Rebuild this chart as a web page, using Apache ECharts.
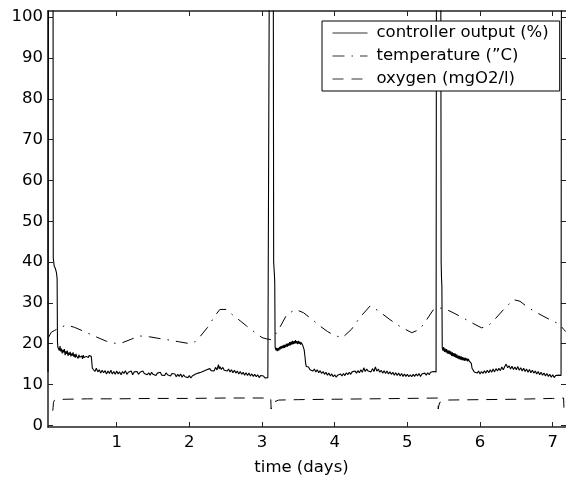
<!DOCTYPE html>
<html>
<head>
<meta charset="utf-8">
<script src="https://cdn.jsdelivr.net/npm/echarts@6/dist/echarts.min.js"></script>
<style>html,body{margin:0;padding:0;background:#fff;}#c{width:566px;height:481px;}</style>
</head>
<body>
<div id="c"></div>
<script>
var seriesNames = ['controller output (%)', 'temperature (\u201dC)', 'oxygen (mgO2/l)'];
var xTicks = [1, 2, 3, 4, 5, 6, 7];
var yTicks = [0, 10, 20, 30, 40, 50, 60, 70, 80, 90, 100];

var controller = [
[0.055,13.0],[0.058,12.6],[0.06,110],[0.124,110],[0.127,41],[0.14,39],[0.155,38.5],[0.17,37.5],[0.18,36],[0.185,20.5],[0.19,19.2],
[0.20,19.0],[0.21,18.3],[0.22,19.4],[0.23,18.1],[0.24,18.8],[0.25,17.6],[0.26,18.5],[0.27,17.9],[0.28,18.7],[0.29,17.2],[0.30,18.1],[0.31,17.5],[0.32,18.3],[0.33,17.0],[0.34,17.8],[0.35,17.3],[0.36,18.0],[0.37,16.9],[0.38,17.6],[0.39,17.1],[0.40,17.9],[0.41,16.8],[0.42,17.4],[0.43,16.6],[0.44,17.5],[0.45,16.9],[0.46,17.2],[0.47,16.4],[0.48,17.3],[0.49,16.7],[0.50,17.1],[0.51,16.5],[0.52,17.0],[0.53,16.3],[0.54,17.2],[0.55,16.6],[0.56,17.0],[0.57,16.4],[0.58,16.9],[0.59,16.5],[0.60,17.3],[0.61,16.6],[0.62,17.1],[0.63,16.8],[0.64,17.4],[0.65,16.9],[0.655,17.2],
[0.66,15.0],[0.665,14.0],[0.67,13.6],
[0.68,13.9],[0.70,13.2],[0.72,14.0],[0.74,13.1],[0.76,13.6],[0.78,12.8],[0.80,13.5],[0.82,12.9],[0.84,13.4],[0.86,12.6],[0.88,13.3],[0.90,12.7],[0.92,13.5],[0.94,12.6],[0.96,13.2],[0.98,12.5],[1.00,13.3],[1.02,12.6],[1.04,13.1],[1.06,12.4],[1.08,13.2],[1.10,12.7],[1.12,13.4],[1.14,12.5],[1.16,13.0],[1.18,12.6],[1.20,13.3],[1.22,12.4],[1.24,13.1],[1.26,12.8],[1.28,13.2],[1.30,12.5],[1.32,13.0],[1.34,12.6],[1.36,13.3],[1.38,12.7],[1.40,13.1],[1.42,12.4],[1.44,12.9],[1.46,12.3],[1.48,13.0],[1.50,12.5],[1.52,12.9],[1.54,12.2],[1.56,12.8],[1.58,12.4],[1.60,13.0],[1.62,12.3],[1.64,12.7],[1.66,12.2],[1.68,12.9],[1.70,12.4],[1.72,12.8],[1.74,12.1],[1.76,12.7],[1.78,12.3],[1.80,12.6],[1.82,11.9],[1.84,12.5],[1.86,12.0],[1.88,12.6],[1.90,11.8],[1.92,12.4],[1.94,11.9],[1.96,12.3],[1.98,11.7],[2.00,12.2],[2.02,11.6],[2.04,12.1],[2.06,11.8],[2.08,12.5],[2.10,12.1],[2.12,12.8],[2.14,12.4],[2.16,13.0],[2.18,12.6],[2.20,13.3],[2.22,12.9],[2.24,13.6],[2.26,13.2],[2.28,13.9],[2.30,13.4],[2.32,13.8],[2.34,13.3],[2.36,14.2],[2.38,13.6],[2.40,14.9],[2.41,13.8],[2.42,14.4],[2.44,13.7],[2.46,14.2],[2.48,13.5],[2.50,13.9],[2.52,13.3],[2.54,13.8],[2.56,13.1],[2.58,13.6],[2.60,12.9],[2.62,13.5],[2.64,12.8],[2.66,13.3],[2.68,12.6],[2.70,13.2],[2.72,12.5],[2.74,13.0],[2.76,12.3],[2.78,12.9],[2.80,12.2],[2.82,12.8],[2.84,12.1],[2.86,12.6],[2.88,12.0],[2.90,12.5],[2.92,11.9],[2.94,12.4],[2.96,11.7],[2.98,12.2],[3.00,11.8],[3.02,12.1],[3.04,11.6],[3.06,12.0],[3.08,11.7],[3.095,11.9],
[3.10,110],[3.155,110],[3.16,40],[3.17,37],[3.175,35],[3.18,19.2],
[3.19,18.4],[3.20,19.0],[3.21,18.2],[3.22,18.9],[3.23,18.3],[3.24,19.2],[3.25,18.6],[3.26,19.4],[3.27,18.8],[3.28,19.5],[3.29,18.9],[3.30,19.7],[3.31,19.0],[3.32,19.8],[3.33,19.2],[3.34,20.0],[3.35,19.3],[3.36,20.1],[3.37,19.5],[3.38,20.4],[3.39,19.6],[3.40,20.5],[3.41,19.8],[3.42,20.7],[3.43,19.9],[3.44,20.6],[3.45,20.0],[3.46,20.9],[3.47,20.1],[3.48,20.6],[3.49,19.9],[3.50,20.7],[3.51,20.0],[3.52,20.5],[3.53,19.8],[3.54,20.3],[3.55,19.9],[3.56,19.6],[3.57,19.2],[3.58,18.5],[3.59,17.0],[3.60,15.2],[3.61,14.4],
[3.62,14.1],[3.64,14.3],[3.66,13.6],[3.68,14.0],[3.70,13.3],[3.72,13.8],[3.74,13.1],[3.76,13.6],[3.78,12.9],[3.80,13.4],[3.82,12.7],[3.84,13.2],[3.86,12.5],[3.88,13.0],[3.90,12.3],[3.92,12.8],[3.94,12.1],[3.96,12.6],[3.98,11.9],[4.00,12.4],[4.02,11.8],[4.04,12.3],[4.06,12.0],[4.08,12.6],[4.10,12.1],[4.12,12.7],[4.14,12.2],[4.16,12.9],[4.18,12.4],[4.20,13.0],[4.22,12.5],[4.24,13.1],[4.26,12.7],[4.28,13.3],[4.30,12.8],[4.32,13.4],[4.34,12.9],[4.36,13.6],[4.38,13.0],[4.40,14.1],[4.42,13.2],[4.44,13.8],[4.46,13.3],[4.48,13.7],[4.50,13.1],[4.52,13.9],[4.54,13.2],[4.56,14.3],[4.58,13.3],[4.60,13.8],[4.62,13.0],[4.64,13.5],[4.66,12.8],[4.68,13.4],[4.70,12.7],[4.72,13.3],[4.74,12.6],[4.76,13.1],[4.78,12.5],[4.80,13.0],[4.82,12.3],[4.84,12.9],[4.86,12.2],[4.88,12.8],[4.90,12.1],[4.92,12.7],[4.94,12.0],[4.96,12.6],[4.98,12.0],[5.00,12.5],[5.02,11.9],[5.04,12.4],[5.06,11.9],[5.08,12.5],[5.10,12.0],[5.12,12.6],[5.14,12.1],[5.16,12.7],[5.18,12.0],[5.20,12.6],[5.22,12.2],[5.24,12.8],[5.26,12.3],[5.28,12.9],[5.30,12.4],[5.32,13.0],[5.34,12.6],[5.36,13.2],[5.38,12.8],[5.395,13.1],
[5.40,110],[5.46,110],[5.465,40],[5.47,36],[5.475,34],[5.48,19.0],
[5.49,18.3],[5.50,19.2],[5.51,18.0],[5.52,18.8],[5.53,17.9],[5.54,18.7],[5.55,17.6],[5.56,18.4],[5.57,17.5],[5.58,18.3],[5.59,17.3],[5.60,18.1],[5.61,17.0],[5.62,17.9],[5.63,16.9],[5.64,17.7],[5.65,16.8],[5.66,17.6],[5.67,16.5],[5.68,17.4],[5.69,16.4],[5.70,17.1],[5.71,16.2],[5.72,17.0],[5.73,16.1],[5.74,16.9],[5.75,16.0],[5.76,16.7],[5.77,15.9],[5.78,16.6],[5.79,15.8],[5.80,16.5],[5.81,15.9],[5.82,16.4],[5.83,15.7],[5.84,16.3],[5.85,15.8],[5.86,16.2],[5.87,15.9],[5.88,15.2],[5.89,14.0],[5.90,13.6],
[5.92,13.1],[5.94,13.5],[5.96,12.8],[5.98,13.3],[6.00,12.6],[6.02,13.2],[6.04,12.7],[6.06,13.4],[6.08,12.8],[6.10,13.5],[6.12,12.9],[6.14,13.6],[6.16,13.0],[6.18,13.8],[6.20,13.1],[6.22,13.9],[6.24,13.3],[6.26,14.0],[6.28,13.4],[6.30,14.3],[6.32,13.6],[6.34,14.4],[6.36,15.0],[6.38,14.1],[6.40,14.6],[6.42,13.8],[6.44,14.5],[6.46,13.7],[6.48,14.3],[6.50,13.6],[6.52,14.4],[6.54,13.5],[6.56,14.1],[6.58,13.3],[6.60,14.0],[6.62,13.2],[6.64,13.8],[6.66,13.0],[6.68,13.7],[6.70,12.9],[6.72,13.5],[6.74,12.8],[6.76,13.3],[6.78,12.6],[6.80,13.2],[6.82,12.4],[6.84,13.0],[6.86,12.3],[6.88,12.8],[6.90,12.1],[6.92,12.7],[6.94,12.0],[6.96,12.5],[6.98,11.8],[7.00,12.4],[7.02,11.7],[7.04,12.2],[7.06,11.8],[7.08,12.3],[7.10,12.0],[7.115,12.2],
[7.12,110],[7.2,110]
];

var temperature = [
[0.06,21.5],[0.10,22.8],[0.14,23.2],[0.20,23.8],[0.31,24.6],[0.42,24.0],[0.54,23.1],[0.70,21.8],[0.86,20.6],[0.98,20.1],[1.07,20.2],[1.20,21.1],[1.32,21.9],[1.45,21.7],[1.58,21.3],[1.69,21.0],[1.85,20.5],[2.01,20.0],[2.08,20.5],[2.15,21.8],[2.25,24.0],[2.35,26.8],[2.42,28.4],[2.51,28.4],[2.60,27.0],[2.70,25.6],[2.79,24.3],[2.90,22.8],[3.00,21.5],[3.06,21.2],[3.12,21.0],[3.15,21.5],[3.22,23.2],[3.34,27.1],[3.46,28.4],[3.57,27.6],[3.70,25.8],[3.80,24.3],[3.90,23.0],[3.98,22.2],[4.10,21.4],[4.23,23.5],[4.35,26.5],[4.49,29.3],[4.62,27.8],[4.76,25.9],[4.90,24.2],[5.06,22.7],[5.17,23.5],[5.27,26.0],[5.36,28.4],[5.49,28.8],[5.63,27.6],[5.77,26.3],[5.90,25.0],[6.02,23.9],[6.10,24.2],[6.18,25.5],[6.32,28.3],[6.46,30.8],[6.55,30.4],[6.65,29.0],[6.78,27.6],[6.95,26.0],[7.10,24.7],[7.15,23.5],[7.18,23.0]
];

var oxygen = [
[0.12,3.6],[0.125,4.4],[0.13,5.6],[0.14,6.1],[0.17,6.3],[0.3,6.4],[0.6,6.5],[1.0,6.5],[1.5,6.6],[2.0,6.6],[2.5,6.7],[3.0,6.7],[3.12,6.6],[3.125,4.0],[3.13,4.6],[3.145,5.6],[3.17,6.0],[3.23,6.2],[3.5,6.3],[4.0,6.4],[4.5,6.5],[5.0,6.6],[5.42,6.7],[5.425,4.0],[5.43,4.6],[5.445,5.6],[5.47,6.0],[5.53,6.2],[6.0,6.3],[6.5,6.4],[7.0,6.6],[7.15,6.7],[7.155,4.2],[7.16,4.8],[7.175,5.7],[7.2,6.2]
];

var FONT = 'DejaVu Sans';
var FS = 16.5;
var AX = '#222';
var chart = echarts.init(document.getElementById('c'), null, {renderer: 'canvas'});
chart.setOption({
  animation: false,
  backgroundColor: '#fff',
  grid: {left: 48, top: 11, width: 518, height: 416.7, containLabel: false},
  legend: {
    orient: 'vertical', left: 322, top: 21,
    backgroundColor: '#fff', borderColor: '#000', borderWidth: 1,
    padding: [2, 11, 2, 10], itemGap: 3, itemWidth: 35, itemHeight: 20,
    itemStyle: {opacity: 0},
    lineStyle: {width: 1, color: '#333'},
    textStyle: {fontFamily: FONT, fontSize: FS, color: '#000', lineHeight: 20, padding: [0, 0, 0, 4]},
    data: seriesNames
  },
  xAxis: [{
    type: 'value', position: 'bottom', min: 0.0546, max: 7.183,
    axisLine: {show: true, onZero: false, lineStyle: {color: AX, width: 1.5}},
    axisTick: {show: true, inside: true, length: 5, customValues: xTicks, lineStyle: {color: AX}},
    axisLabel: {show: true, customValues: xTicks, margin: 7, fontFamily: FONT, fontSize: FS, color: '#000'},
    splitLine: {show: false},
    name: 'time (days)', nameLocation: 'middle', nameGap: 32,
    nameTextStyle: {fontFamily: FONT, fontSize: FS, color: '#000', padding: [0, 11, 0, 0]}
  }, {
    type: 'value', position: 'top', min: 0.0546, max: 7.183,
    axisLine: {show: true, onZero: false, lineStyle: {color: AX, width: 1.5}},
    axisTick: {show: true, inside: true, length: 5, customValues: xTicks, lineStyle: {color: AX}},
    axisLabel: {show: false}, splitLine: {show: false}
  }],
  yAxis: [{
    type: 'value', position: 'left', min: -0.4, max: 101.5,
    axisLine: {show: true, onZero: false, lineStyle: {color: AX, width: 1.5}},
    axisTick: {show: true, inside: true, length: 5, customValues: yTicks, lineStyle: {color: AX}},
    axisLabel: {show: true, customValues: yTicks, margin: 5, padding: [3, 0, 0, 0], fontFamily: FONT, fontSize: FS, color: '#000'},
    splitLine: {show: false}
  }, {
    type: 'value', position: 'right', min: -0.4, max: 101.5,
    axisLine: {show: false},
    axisTick: {show: true, inside: true, length: 5, customValues: yTicks, lineStyle: {color: AX}},
    axisLabel: {show: false}, splitLine: {show: false}
  }],
  series: [{
    name: seriesNames[0], type: 'line', data: controller, symbol: 'none', clip: true,
    lineStyle: {color: '#000', width: 1.1, type: 'solid'}, itemStyle: {color: '#000'}
  }, {
    name: seriesNames[1], type: 'line', data: temperature, symbol: 'none', clip: true,
    lineStyle: {color: '#000', width: 1, type: [12, 7, 1.5, 7]}, itemStyle: {color: '#000'}
  }, {
    name: seriesNames[2], type: 'line', data: oxygen, symbol: 'none', clip: true,
    lineStyle: {color: '#000', width: 1, type: [11, 8]}, itemStyle: {color: '#000'}
  }]
});
</script>
</body>
</html>
